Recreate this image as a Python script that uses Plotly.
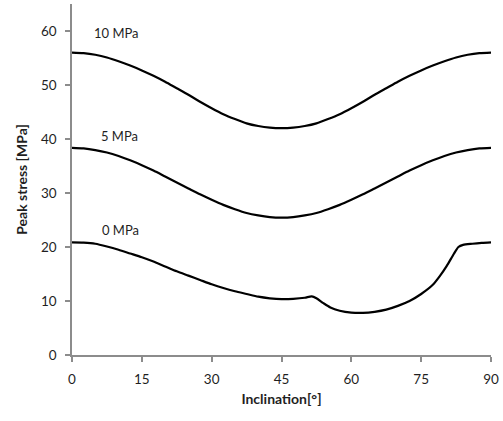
import plotly.graph_objects as go

# Peak stress versus joint inclination for three confining pressures
inclination_10 = [0, 2.5, 5, 7.5, 10, 12.5, 15, 17.5, 20, 22.5, 25, 27.5, 30, 32.5, 35, 37.5, 40, 42.5, 45,
                  47.5, 50, 52.5, 55, 57.5, 60, 62.5, 65, 67.5, 70, 72.5, 75, 77.5, 80, 82.5, 85, 87.5, 90]
stress_10 = [56.0, 55.9, 55.6, 55.1, 54.4, 53.6, 52.7, 51.7, 50.6, 49.4, 48.2, 46.9, 45.7, 44.6, 43.7, 42.9, 42.4, 42.1, 42.0,
             42.1, 42.4, 42.9, 43.7, 44.6, 45.7, 46.9, 48.2, 49.4, 50.6, 51.7, 52.7, 53.6, 54.4, 55.1, 55.6, 55.9, 56.0]

inclination_5 = inclination_10
stress_5 = [38.35, 38.25, 37.95, 37.5, 36.85, 36.05, 35.15, 34.15, 33.05, 31.95, 30.85, 29.75, 28.75, 27.8, 27.0, 26.3, 25.85, 25.55, 25.45,
            25.55, 25.85, 26.3, 27.0, 27.8, 28.75, 29.75, 30.85, 31.95, 33.05, 34.15, 35.15, 36.05, 36.85, 37.5, 37.95, 38.25, 38.35]

inclination_0 = [0, 2.5, 5, 7.5, 10, 12.5, 15, 17.5, 20, 22.5, 25, 27.5, 30, 32.5, 35, 37.5, 40, 42.5, 45,
                 47.5, 50, 51.5, 52.5, 54, 55.5, 57.5, 60, 62.5, 65, 67.5, 70, 72.5, 75, 77.5, 79, 80.5, 82, 83, 84, 86, 88, 90]
stress_0 = [20.85, 20.8, 20.6, 20.1, 19.5, 18.8, 18.1, 17.3, 16.4, 15.5, 14.7, 13.9, 13.1, 12.4, 11.8, 11.3, 10.8, 10.5, 10.35,
            10.4, 10.6, 10.85, 10.5, 9.6, 8.8, 8.2, 7.85, 7.8, 8.0, 8.4, 9.1, 10.0, 11.3, 13.0, 14.6, 16.5, 18.7, 20.0, 20.4, 20.6, 20.75, 20.85]

series_labels = ["10 MPa", "5 MPa", "0 MPa"]
label_x = [9.5, 10.3, 10.5]
label_y = [59.6, 40.6, 23.2]

x_ticks = [0, 15, 30, 45, 60, 75, 90]
y_ticks = [0, 10, 20, 30, 40, 50, 60]

FONT = "Lato, 'Open Sans', sans-serif"
TEXT = "#1f1f1f"
AXIS = "#8c8c8c"

fig = go.Figure()
for xs, ys, name in [(inclination_10, stress_10, series_labels[0]),
                     (inclination_5, stress_5, series_labels[1]),
                     (inclination_0, stress_0, series_labels[2])]:
    fig.add_trace(go.Scatter(x=xs, y=ys, mode="lines", name=name,
                             line=dict(color="black", width=2.2, shape="spline", smoothing=0.7),
                             showlegend=False))

for name, lx, ly in zip(series_labels, label_x, label_y):
    fig.add_annotation(x=lx, y=ly, text=name, showarrow=False,
                       font=dict(family=FONT, size=13, color=TEXT))

fig.update_layout(
    width=503, height=421,
    margin=dict(l=72, r=12, t=4, b=66),
    paper_bgcolor="white", plot_bgcolor="white",
    font=dict(family=FONT, color=TEXT),
)
fig.update_xaxes(
    range=[0, 90], tickvals=x_ticks, showgrid=False, zeroline=False,
    showline=True, linecolor=AXIS, linewidth=1.5,
    ticks="outside", ticklen=5, tickcolor=AXIS, tickwidth=1.5,
    ticklabelstandoff=6,
    tickfont=dict(family=FONT, size=13.5, color=TEXT),
    title=dict(text="<b>Inclination[°]</b>", font=dict(family=FONT, size=14, color=TEXT), standoff=8),
)
fig.update_yaxes(
    range=[0, 65], tickvals=y_ticks, showgrid=False, zeroline=False,
    showline=True, linecolor=AXIS, linewidth=1.5,
    ticks="outside", ticklen=5, tickcolor=AXIS, tickwidth=1.5,
    ticklabelstandoff=6,
    tickfont=dict(family=FONT, size=13.5, color=TEXT),
    title=dict(text="<b>Peak stress [MPa]</b>", font=dict(family=FONT, size=14, color=TEXT), standoff=10),
)

fig.write_html("out.html")
